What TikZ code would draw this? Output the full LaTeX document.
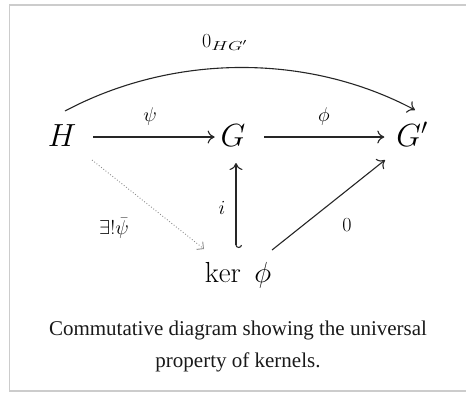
\documentclass[tikz,border=0pt]{standalone}
\usepackage{fix-cm}
\usepackage{graphicx}
\usepackage{fontspec}
\newfontfamily\capfont{Liberation Serif}
\usetikzlibrary{arrows.meta}
\definecolor{framegray}{HTML}{CCCCCC}
\definecolor{ink}{HTML}{262626}
\begin{document}
\begin{tikzpicture}[x=1pt,y=-1pt,
  obj/.style={inner sep=0pt, outer sep=0pt, anchor=base, font=\fontsize{32}{36}\selectfont},
  lab/.style={inner sep=0pt, font=\fontsize{20}{24}\selectfont},
  captxt/.style={inner sep=0pt, font=\capfont\fontsize{21}{25}\selectfont, text=black!90},
  ar/.style={draw=ink, line width=1.1pt, -{Computer Modern Rightarrow[length=7pt,width=13pt]}}]
\useasboundingbox (0,0) rectangle (466,392);
\draw[framegray, line width=1.5pt] (466,5) -- (9.5,5) -- (9.5,391) -- (466,391);
% objects
\node[obj] (H) at (62,146) {$H$};
\node[obj] (G) at (233,146) {$G$};
\node[obj] (Gp) at (412,146) {$G'$};
\node[obj, font=\fontsize{29}{34}\selectfont] (K) at (238,282) {$\ker\ \phi$};
% arrows
\draw[ar] ([xshift=17pt,yshift=9pt]H.base east) -- ([xshift=-6pt,yshift=9pt]G.base west);
\draw[ar] ([xshift=19pt,yshift=9pt]G.base east) -- ([xshift=-12pt,yshift=9pt]Gp.base west);
\draw[ar] ([xshift=3pt,yshift=35pt]H.base) .. controls +(28:122pt) and +(152:122pt) .. ([xshift=3pt,yshift=36pt]Gp.base);
\draw[ar, {Hooks[harpoon,arc=180,length=3pt,width=12pt]}-{Computer Modern Rightarrow[length=7pt,width=13pt]}]
  ([xshift=-2pt,yshift=34pt]K.base) -- ([xshift=3pt,yshift=-17pt]G.base);
\draw[ar] ([xshift=34pt,yshift=32pt]K.base) -- ([xshift=-27pt,yshift=-14pt]Gp.base);
\draw[draw=black!45, line width=0.9pt, dotted, -{Straight Barb[angle=90:7pt,line width=0.9pt]}]
  ([xshift=30pt,yshift=-14pt]H.base) -- ([xshift=-34pt,yshift=33pt]K.base);
% labels
\node[lab] (lpsi) at (150,116) {$\psi$};
\node[lab] (lphi) at (324,116) {$\phi$};
\node[lab, anchor=base west] (lzero) at (202,47) {$0_{\scalebox{1.45}[1]{\fontsize{13}{15}\selectfont$HG'$}}$};
\node[lab] (li) at (222,208) {$i$};
\node[lab] (lz) at (347,225) {$0$};
\node[lab] (lex) at (114,228) {$\exists!\bar{\psi}$};
% caption
\node[captxt] (c1) at (238,330) {Commutative diagram showing the universal};
\node[captxt] (c2) at (238,362) {property of kernels.};
\end{tikzpicture}
\end{document}
